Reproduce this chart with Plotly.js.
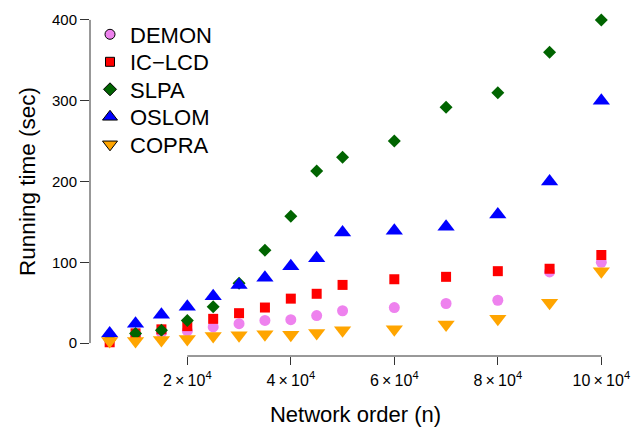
<!DOCTYPE html>
<html><head><meta charset="utf-8">
<script src="https://cdn.plot.ly/plotly-3.0.1.min.js"></script>
<style>html,body{margin:0;padding:0;background:#fff}#chart{width:644px;height:434px}</style>
</head><body><div id="chart"></div>
<script>
// Network orders (x) and running times (sec) per algorithm
const orders = [5000, 10000, 15000, 20000, 25000, 30000, 35000, 40000, 45000, 50000, 60000, 70000, 80000, 90000, 100000];
const demon  = [4, 9, 13, 15, 20, 24, 28, 29, 34, 40, 44, 49, 53, 88, 100];
const iclcd  = [1, 12, 17, 21, 30, 37, 44, 55, 61, 72, 79, 82, 89, 92, 109];
const slpa   = [4, 12, 16, 28, 45, 74, 115, 157, 213, 230, 250, 292, 310, 360, 400];
const oslom  = [12, 24, 35, 45, 58, 72, 81, 95, 105, 137, 139, 144, 159, 200, 300];
const copra  = [2.5, 2.5, 3.7, 5, 8.7, 9.8, 11, 10.3, 12.4, 15.8, 17.2, 23, 30, 50, 89];

const names = ['DEMON', 'IC\u2212LCD', 'SLPA', 'OSLOM', 'COPRA'];
const xTickVals = [20000, 40000, 60000, 80000, 100000];
const xTickText = ['2\u2009\u00d7\u200910<sup>4</sup>', '4\u2009\u00d7\u200910<sup>4</sup>', '6\u2009\u00d7\u200910<sup>4</sup>', '8\u2009\u00d7\u200910<sup>4</sup>', '10\u2009\u00d7\u200910<sup>4</sup>'];
const yTickVals = [0, 100, 200, 300, 400];

const series = [demon, iclcd, slpa, oslom, copra];
const colors = ['#EE82EE', '#FF0000', '#006400', '#0000FF', '#FFA500'];
const symbols = ['circle', 'square', 'diamond', 'triangle-up', 'triangle-down'];
const plotSizes = [11, 10, 10, 15, 15];
const legendSizes = [10, 9, 10, 13, 13];

// legend layout (pixels from top of figure for each row centre)
const W = 644, H = 434;
const M = {l: 90, r: 23, t: 7, b: 78};
const plotH = H - M.t - M.b;
const legendRowsPx = [34.5, 62, 89.5, 117, 144.5];
const legendIds = ['legend', 'legend2', 'legend3', 'legend4', 'legend5'];

const traces = [];
series.forEach((ys, i) => {
  traces.push({
    x: orders, y: ys, type: 'scatter', mode: 'markers', name: names[i],
    showlegend: false,
    marker: {symbol: symbols[i], color: colors[i], size: plotSizes[i], line: {width: 0}}
  });
});
series.forEach((ys, i) => {
  traces.push({
    x: [null], y: [null], type: 'scatter', mode: 'markers',
    name: names[i], legend: legendIds[i],
    showlegend: true,
    marker: {symbol: symbols[i], color: colors[i], size: legendSizes[i], line: {width: 1, color: '#000'}}
  });
});

const axisCol = '#333';
const layout = {
  width: W, height: H,
  margin: {l: M.l, r: M.r, t: M.t, b: M.b, pad: 0},
  paper_bgcolor: '#fff', plot_bgcolor: '#fff',
  font: {family: 'Liberation Sans, Arial, Helvetica, sans-serif', color: '#000'},
  showlegend: true,
  xaxis: {
    range: [1200, 103800], tickmode: 'array', tickvals: xTickVals, ticktext: xTickText,
    ticks: 'outside', ticklen: 8, tickwidth: 1, tickcolor: axisCol,
    showline: false, showgrid: false, zeroline: false,
    tickfont: {size: 16}, ticklabelstandoff: 2,
    title: {text: 'Network order (n)', font: {size: 22}, standoff: 18}
  },
  yaxis: {
    range: [-16, 416], tickmode: 'array', tickvals: yTickVals,
    ticks: 'outside', ticklen: 9, tickwidth: 1, tickcolor: axisCol,
    showline: false, showgrid: false, zeroline: false,
    tickfont: {size: 15},
    title: {text: 'Running time (sec)', font: {size: 22.5}, standoff: 10}
  },
  shapes: [
    {type: 'line', xref: 'x', yref: 'paper', x0: xTickVals[0], x1: xTickVals[xTickVals.length - 1], y0: 0, y1: 0, line: {color: axisCol, width: 1}},
    {type: 'line', xref: 'paper', yref: 'y', x0: 0, x1: 0, y0: yTickVals[0], y1: yTickVals[yTickVals.length - 1], line: {color: axisCol, width: 1}}
  ]
};
legendIds.forEach((id, i) => {
  layout[id] = {
    x: 0, xanchor: 'left',
    y: (H - M.b - legendRowsPx[i]) / plotH, yanchor: 'middle',
    font: {size: 22}, bgcolor: 'rgba(0,0,0,0)', borderwidth: 0
  };
});

Plotly.newPlot('chart', traces, layout, {displayModeBar: false, staticPlot: true});
</script>
</body></html>
